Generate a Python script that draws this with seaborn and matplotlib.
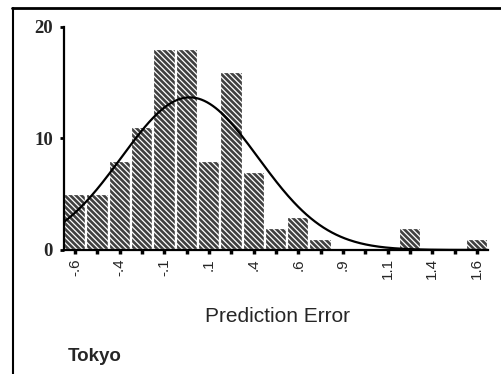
import numpy as np
import pandas as pd
import matplotlib
matplotlib.use("Agg")
import matplotlib.pyplot as plt
from matplotlib.lines import Line2D
import seaborn as sns

# Histogram of prediction errors (bin centres and counts)
bin_centers = [-0.6, -0.478, -0.356, -0.233, -0.111, 0.011, 0.133, 0.256, 0.378,
               0.5, 0.622, 0.744, 0.867, 0.989, 1.111, 1.233, 1.356, 1.478, 1.6]
counts = [5, 5, 8, 11, 18, 18, 8, 16, 7, 2, 3, 1, 0, 0, 0, 2, 0, 0, 1]
tick_labels = ["-.6", "-.4", "-.1", ".1", ".4", ".6", ".9", "1.1", "1.4", "1.6"]
y_ticks = [0, 10, 20]

sns.set_theme(style="white")
plt.rcParams["hatch.linewidth"] = 0.9

width = (bin_centers[-1] - bin_centers[0]) / (len(bin_centers) - 1)
edges = [bin_centers[0] - width / 2] + [b + width / 2 for b in bin_centers]
df = pd.DataFrame({"error": bin_centers, "n": counts})

fig = plt.figure(figsize=(5.02, 3.74), dpi=100)
ax = fig.add_axes([0.1275, 0.3316, 0.8445, 0.5964])

sns.histplot(data=df, x="error", weights="n", bins=edges, ax=ax,
             color="#404040", alpha=1.0, edgecolor="white", linewidth=1.6)
for p in ax.patches:
    p.set_hatch("\\\\\\\\\\\\")

# Fitted normal curve over the histogram
c = np.array(bin_centers)
n = np.array(counts)
mu = (c * n).sum() / n.sum()
sd = np.sqrt(((c - mu) ** 2 * n).sum() / n.sum())
xs = np.linspace(edges[0], edges[-1], 300)
ys = n.sum() * width / (sd * np.sqrt(2 * np.pi)) * np.exp(-0.5 * ((xs - mu) / sd) ** 2)
sns.lineplot(x=xs, y=ys, ax=ax, color="black", linewidth=1.6)

ax.set_xlim(edges[0], edges[-1])
ax.set_ylim(0, 20)
ax.set_xlabel("")
ax.set_ylabel("")
sns.despine(ax=ax)
for s in ("left", "bottom"):
    ax.spines[s].set_color("black")
    ax.spines[s].set_linewidth(1.6)

ax.set_xticks(bin_centers[::2])
ax.set_xticks(bin_centers, minor=True)
ax.set_xticklabels(tick_labels, rotation=90, fontsize=11,
                   family="Liberation Sans")
ax.set_yticks(y_ticks)
ax.set_yticklabels([str(v) for v in y_ticks], fontsize=13.5,
                   family="Liberation Serif", fontweight="bold")
ax.tick_params(axis="x", which="both", direction="out", length=3, width=2.5,
               color="black", bottom=True, pad=3)
ax.tick_params(axis="y", direction="out", length=3, width=2, color="black",
               left=True, pad=5)

fig.text(0.553, 0.155, "Prediction Error", ha="center", va="center",
         fontsize=15, family="Liberation Sans")
fig.text(0.135, 0.048, "Tokyo", ha="left", va="center",
         fontsize=13.5, family="Liberation Sans", fontweight="bold")

# Page frame lines
fig.add_artist(Line2D([0.024, 1.0], [0.979, 0.979], color="black", linewidth=2))
fig.add_artist(Line2D([0.026, 0.026], [0.0, 0.979], color="black", linewidth=1.5))

fig.savefig("out.png", dpi=100)
